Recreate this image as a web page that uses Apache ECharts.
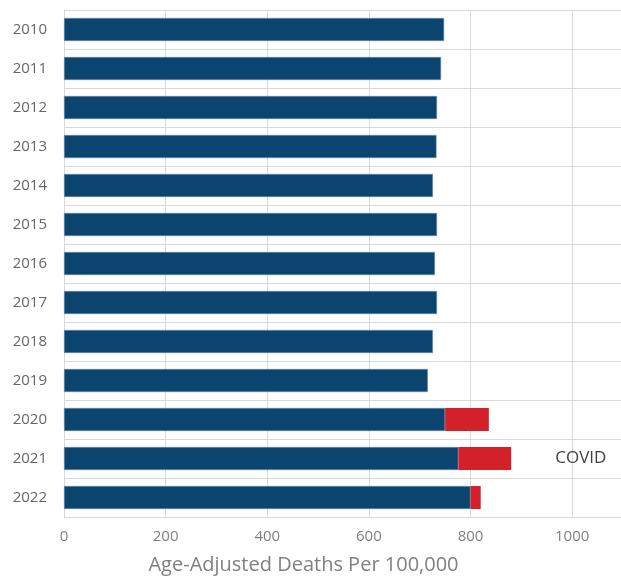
<!DOCTYPE html>
<html>
<head>
<meta charset="utf-8">
<script src="https://cdn.jsdelivr.net/npm/echarts@6/dist/echarts.min.js"></script>
<style>
  html, body { margin: 0; padding: 0; background: #fff; }
  #chart { width: 621px; height: 579px; }
</style>
</head>
<body>
<div id="chart"></div>
<script>
const years = ["2010", "2011", "2012", "2013", "2014", "2015", "2016", "2017", "2018", "2019", "2020", "2021", "2022"];
// baseline deaths per 100k (blue) and covid part on top (red)
const baseDeaths = [748, 742, 734, 733, 726, 734, 730, 734, 726, 716, 750, 776, 800];
const covidDeaths = [0, 0, 0, 0, 0, 0, 0, 0, 0, 0, 86, 104, 20];
const covidLabel = "COVID";
const xTitle = "Age-Adjusted Deaths Per 100,000";

const font = "'Open Sans', 'Liberation Sans', sans-serif";
const grid = "#d9d9d9";

const chart = echarts.init(document.getElementById("chart"));
chart.setOption({
  animation: false,
  grid: { left: 64, width: 559, top: 10, bottom: 62, containLabel: false, outerBoundsMode: "none" },
  xAxis: {
    type: "value",
    min: 0, max: 1100, interval: 200,
    name: xTitle,
    nameLocation: "middle",
    nameGap: 38,
    // title sits a bit left of the plot centre in the original
    nameTextStyle: { color: "#808080", fontSize: 20, fontFamily: font, padding: [0, 80, 0, 0] },
    axisLine: { show: false },
    axisTick: { show: false },
    axisLabel: {
      color: "#808080", fontSize: 15, fontFamily: font, margin: 12,
      formatter: v => (v > 1000 ? "" : String(v)),
    },
    splitLine: { lineStyle: { color: grid, width: 1 } },
  },
  yAxis: {
    type: "category",
    data: years,
    inverse: true,
    axisLine: { show: true, lineStyle: { color: grid } },
    axisTick: { show: false },
    axisLabel: { color: "#666666", fontSize: 15, fontFamily: font, margin: 17 },
    splitLine: { show: true, lineStyle: { color: grid, width: 1 } },
  },
  series: [
    {
      type: "bar",
      stack: "d",
      data: baseDeaths,
      barCategoryGap: "41%",
      itemStyle: { color: "#0b446f", borderColor: "#6a8fb0", borderWidth: 0.6 },
    },
    {
      type: "bar",
      stack: "d",
      data: covidDeaths.map((v, i) => ({
        value: v,
        label: years[i] === "2021" ? {
          show: true, position: "right", distance: 44,
          formatter: covidLabel, color: "#404040", fontSize: 17, fontFamily: font,
        } : { show: false },
      })),
      itemStyle: { color: "#d42029" },
    },
  ],
});
</script>
</body>
</html>
